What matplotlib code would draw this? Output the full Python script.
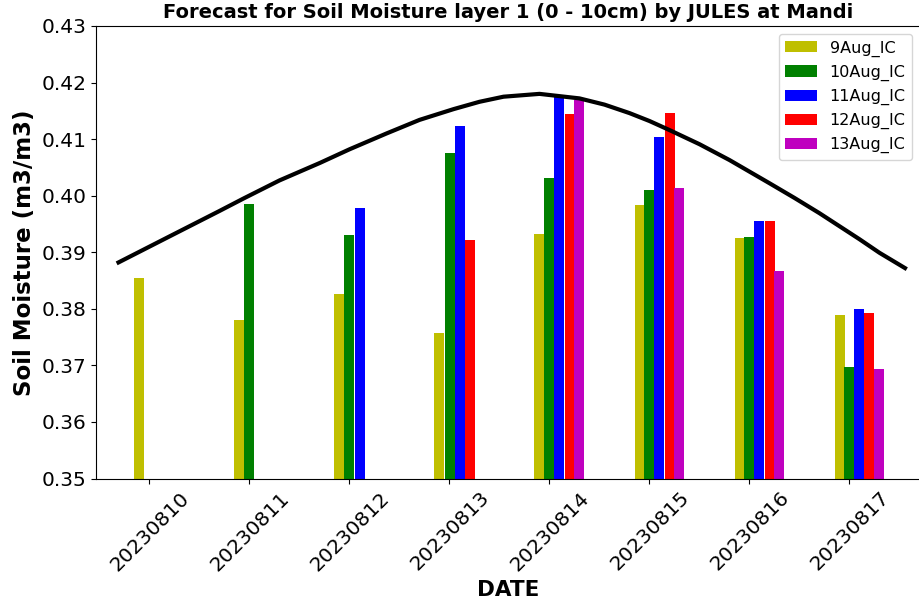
import numpy as np
import matplotlib
matplotlib.use('Agg')
import matplotlib.pyplot as plt

dates = ['20230810', '20230811', '20230812', '20230813',
         '20230814', '20230815', '20230816', '20230817']
labels = ['9Aug_IC', '10Aug_IC', '11Aug_IC', '12Aug_IC', '13Aug_IC']
colors = ['y', 'g', 'b', 'r', 'm']

nan = np.nan
ic_9aug = [0.3854, 0.3781, 0.3827, 0.3757, 0.3932, 0.3984, 0.3925, 0.3789]
ic_10aug = [nan, 0.3985, 0.3930, 0.4076, 0.4031, 0.4010, 0.3927, 0.3697]
ic_11aug = [nan, nan, 0.3978, 0.4123, 0.4174, 0.4104, 0.3956, 0.3799]
ic_12aug = [nan, nan, nan, 0.3922, 0.4144, 0.4146, 0.3956, 0.3792]
ic_13aug = [nan, nan, nan, nan, 0.4169, 0.4013, 0.3867, 0.3693]

# climatology curve (x in days from 20230810)
clim_x = [-0.31, 0.20, 0.50, 0.70, 0.94, 1.30, 1.705, 2.00, 2.37, 2.70,
          3.04, 3.30, 3.54, 3.90, 4.30, 4.55, 4.80, 5.00, 5.20, 5.50,
          5.80, 6.20, 6.45, 6.70, 6.90, 7.10, 7.30, 7.555]
clim_y = [0.3882, 0.3928, 0.3955, 0.3973, 0.3995, 0.4027, 0.4058, 0.4082,
          0.4110, 0.4134, 0.4153, 0.4166, 0.4175, 0.4180, 0.4172, 0.4161,
          0.4146, 0.4132, 0.4116, 0.4091, 0.4063, 0.4022, 0.3996, 0.3969,
          0.3946, 0.3923, 0.3899, 0.3872]

series = [ic_9aug, ic_10aug, ic_11aug, ic_12aug, ic_13aug]

fig = plt.figure(figsize=(9.2, 6.07), dpi=100)
ax = fig.add_axes([96 / 920, 1 - 478.5 / 607, 1 - 96 / 920, (478.5 - 26) / 607])

x = np.arange(len(dates))
w = 0.1
for i, vals in enumerate(series):
    ax.bar(x + (i - 1) * w, vals, width=w, color=colors[i], label=labels[i])

ax.plot(clim_x, clim_y, color='black', lw=3, solid_joinstyle='round')

ax.set_ylim(0.35, 0.43)
ax.set_xlim(-0.535, 7.705)
ax.set_xticks(x)
ax.set_xticklabels(dates, rotation=45, fontsize=14.5)
ax.set_yticks(np.arange(0.35, 0.4301, 0.01))
ax.set_yticklabels(['%.2f' % v for v in np.arange(0.35, 0.4301, 0.01)], fontsize=14.5)
ax.spines['right'].set_visible(False)

ax.set_xlabel('DATE', fontsize=15.5, fontweight='bold')
ax.set_ylabel('Soil Moisture (m3/m3)', fontsize=16.5, fontweight='bold')
ax.set_title('Forecast for Soil Moisture layer 1 (0 - 10cm) by JULES at Mandi',
             fontsize=14, fontweight='bold')
ax.legend(loc='upper right', fontsize=11.5)

plt.savefig('out.png', dpi=100)
